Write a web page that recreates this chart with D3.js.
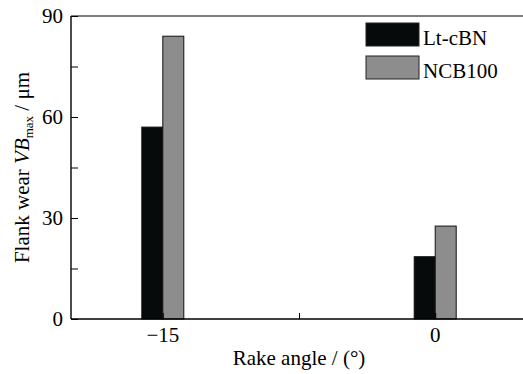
<!DOCTYPE html>
<html>
<head>
<meta charset="utf-8">
<script src="https://cdn.jsdelivr.net/npm/d3@7"></script>
<style>
  body { margin: 0; background: #fff; overflow: hidden; }
  svg { display: block; }
</style>
</head>
<body>
<svg id="chart" width="523" height="374"></svg>
<script>
// rake angles on the x axis
const angles = [-15, 0];
const seriesNames = ["Lt-cBN", "NCB100"];
// flank wear VBmax (um) per series
const ltcbn = [57, 18.5];
const ncb100 = [84, 27.6];
const yTicks = [0, 30, 60, 90];
const yMinor = [15, 45, 75];
const xTicks = [-15, -7.5, 0];

const colors = ["#070a0b", "#8d8d8d"];
const values = [ltcbn, ncb100];
const FONT = "Liberation Serif";

const svg = d3.select("#chart");
const plotLeft = 71, plotTop = 16, plotBottom = 319, plotRight = 526;

const x = d3.scaleLinear().domain([-20, 5]).range([plotLeft + 1, plotRight]);
const y = d3.scaleLinear().domain([0, 90]).range([plotBottom, plotTop]);
const barW = 21;

// bars
values.forEach((vals, s) => {
    svg.append("g")
        .selectAll("rect")
        .data(angles.map((a, i) => ({a: a, v: vals[i]})))
        .enter().append("rect")
        .attr("x", d => x(d.a) - barW + s * barW)
        .attr("y", d => y(d.v))
        .attr("width", barW)
        .attr("height", d => y(0) - y(d.v))
        .attr("fill", colors[s])
        .attr("stroke", "#111")
        .attr("stroke-width", 1);
});

// frame: top line (right side is cut off in the figure)
svg.append("line")
    .attr("x1", plotLeft).attr("x2", 523)
    .attr("y1", plotTop).attr("y2", plotTop)
    .attr("stroke", "#000").attr("stroke-width", 1.2);

// y axis ticks (inside)
svg.append("g")
    .attr("transform", `translate(${plotLeft},0)`)
    .call(d3.axisRight(y).tickValues(yTicks.concat(yMinor)).tickSize(7).tickFormat(""))
    .call(g => g.select(".domain").remove());
svg.append("line")
    .attr("x1", plotLeft).attr("x2", plotLeft)
    .attr("y1", plotTop).attr("y2", plotBottom)
    .attr("stroke", "#000").attr("stroke-width", 1.4);

svg.selectAll(".ylab")
    .data(yTicks)
    .enter().append("text")
    .attr("class", "ylab")
    .attr("x", plotLeft - 8)
    .attr("y", d => y(d) + 7)
    .attr("text-anchor", "end")
    .attr("font-family", FONT)
    .attr("font-size", 21)
    .text(d => d);

// x axis: the -15 and 0 ticks sit under the bars
svg.append("g")
    .attr("transform", `translate(0,${plotBottom})`)
    .call(d3.axisTop(x).tickValues(xTicks).tickSize(6).tickFormat(""))
    .call(g => g.select(".domain").remove());
svg.append("line")
    .attr("x1", plotLeft).attr("x2", 523)
    .attr("y1", plotBottom).attr("y2", plotBottom)
    .attr("stroke", "#000").attr("stroke-width", 1.4);

svg.selectAll(".xlab")
    .data(angles)
    .enter().append("text")
    .attr("class", "xlab")
    .attr("x", d => x(d))
    .attr("y", 342)
    .attr("text-anchor", "middle")
    .attr("font-family", FONT)
    .attr("font-size", 21)
    .text(d => d < 0 ? "\u2212" + Math.abs(d) : d);

svg.append("text")
    .attr("x", x(-7.5))
    .attr("y", 365)
    .attr("text-anchor", "middle")
    .attr("font-family", FONT)
    .attr("font-size", 21)
    .text("Rake angle / (\u00b0)");

// y title
const yt = svg.append("text")
    .attr("transform", `translate(29,${(plotTop + plotBottom) / 2}) rotate(-90)`)
    .attr("text-anchor", "middle")
    .attr("font-family", FONT)
    .attr("font-size", 21);
yt.append("tspan").text("Flank wear ");
yt.append("tspan").attr("font-style", "italic").text("VB");
yt.append("tspan").attr("font-size", 13).attr("dy", 4).text("max");
yt.append("tspan").attr("dy", -4).text(" / \u03bcm");

// legend
const leg = svg.append("g");
seriesNames.forEach((n, i) => {
    leg.append("rect")
        .attr("x", 366).attr("y", 23 + i * 33)
        .attr("width", 53).attr("height", 23)
        .attr("fill", colors[i])
        .attr("stroke", "#222").attr("stroke-width", 1);
    leg.append("text")
        .attr("x", 423).attr("y", 45 + i * 33)
        .attr("font-family", FONT)
        .attr("font-size", 21)
        .text(n);
});

svg.selectAll(".tick line").attr("stroke", "#000").attr("stroke-width", 1);
</script>
</body>
</html>
